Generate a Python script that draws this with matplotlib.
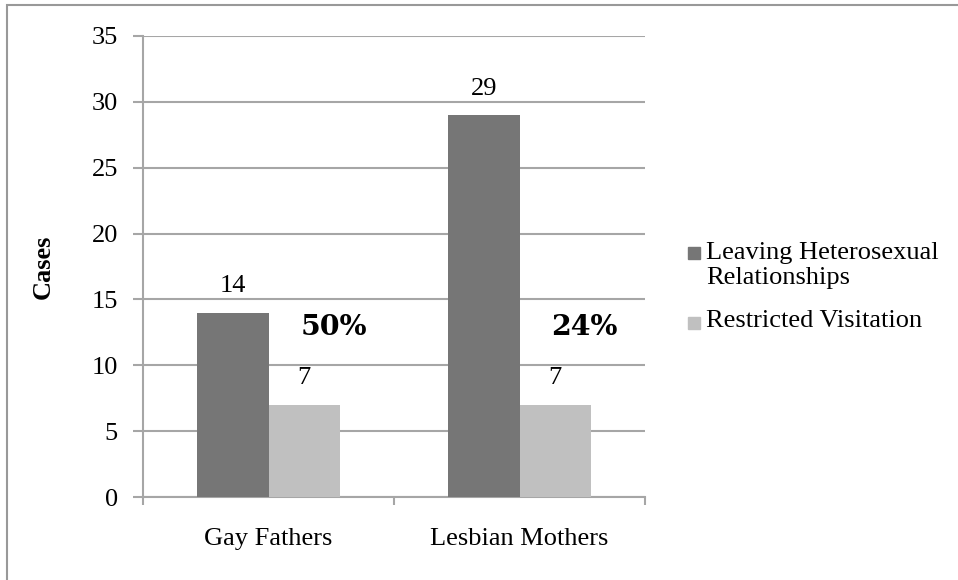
import matplotlib
matplotlib.use("Agg")
import matplotlib.pyplot as plt
from matplotlib.patches import Rectangle
import numpy as np

plt.rcParams['font.family'] = ['Liberation Serif', 'DejaVu Serif']

# data
groups = ['Gay Fathers', 'Lesbian Mothers']
leaving = [14, 29]
restricted = [7, 7]
pct_labels = ['50%', '24%']
series_names = ['Leaving Heterosexual\nRelationships', 'Restricted Visitation']

dark = '#767676'
light = '#c0c0c0'
grid_c = '#a6a6a6'

fig = plt.figure(figsize=(9.58, 5.8), dpi=100)
# outer chart border (cut off at the right/bottom like the original)
fig.patches.append(Rectangle((7 / 958, -0.1), 1.2, (580 - 5) / 580 + 0.1,
                             transform=fig.transFigure, fill=False,
                             edgecolor='#999999', lw=1.5))

ax = fig.add_axes([143 / 958, 1 - 497 / 580, (645 - 143) / 958, (497 - 36) / 580])

x = np.arange(len(groups))
w = 0.285
b1 = ax.bar(x - w / 2, leaving, w, color=dark, zorder=3)
b2 = ax.bar(x + w / 2, restricted, w, color=light, zorder=3)

fs = 19
for bars in (b1, b2):
    for r in bars:
        ax.text(r.get_x() + r.get_width() / 2, r.get_height() + 2.0,
                f'{int(r.get_height())}', ha='center', va='center', fontsize=fs)

for xi, p in zip(x, pct_labels):
    ax.text(xi + 0.26, 12.85, p, ha='center', va='center', fontsize=20.5,
            fontweight='bold', family=['DejaVu Serif'])

ax.set_xlim(-0.5, 1.5)
ax.set_ylim(0, 35)
ax.set_yticks(range(0, 36, 5))
ax.yaxis.grid(True, color=grid_c, lw=1.5, zorder=0)
ax.set_axisbelow(True)

ax.set_xticks([-0.5, 0.5, 1.5], minor=False)
ax.set_xticklabels([])
ax.set_xticks(x, minor=True)
ax.set_xticklabels(groups, minor=True, fontsize=fs)
ax.tick_params(axis='x', which='minor', length=0, pad=22)
ax.tick_params(axis='x', which='major', length=6, width=1.5, color=grid_c, direction='out')
ax.tick_params(axis='y', length=7, width=1.5, color=grid_c, labelsize=fs, pad=11)

for s in ['top', 'right']:
    ax.spines[s].set_visible(False)
for s in ['left', 'bottom']:
    ax.spines[s].set_color(grid_c)
    ax.spines[s].set_linewidth(1.5)

ax.set_ylabel('Cases', fontsize=fs, fontweight='bold')
ax.yaxis.set_label_coords((55 - 143) / (645 - 143), 0.5)

# legend drawn by hand so the swatch sits on the first text line
line_h = 27
leg_rows = [(series_names[0], dark, 257), (series_names[1], light, 327)]
for label, col, base in leg_rows:
    fig.patches.append(Rectangle((688 / 958, 1 - (base + 2) / 580), 12 / 958, 12 / 580,
                                 transform=fig.transFigure, color=col))
    last_base = base + line_h * label.count('\n')
    fig.text(706 / 958, 1 - last_base / 580, label, ha='left', va='baseline',
             fontsize=fs, linespacing=1.2)

fig.savefig('out.png', dpi=100)
